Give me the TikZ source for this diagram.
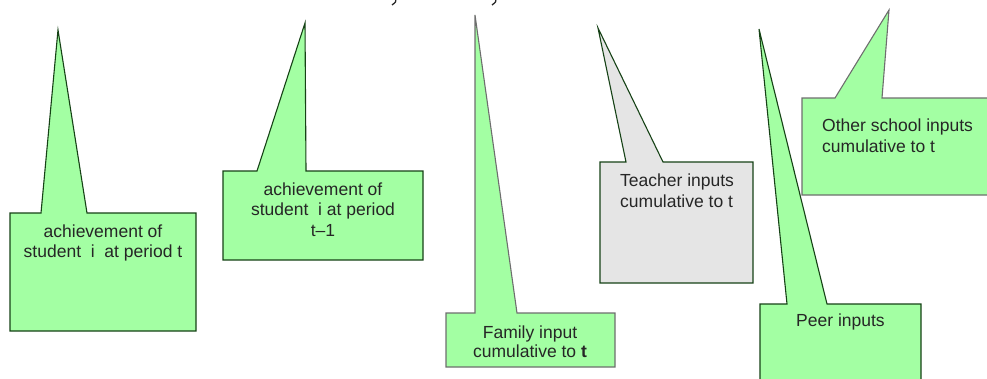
\documentclass[tikz,border=0pt]{standalone}
\usepackage{fontspec}
\setmainfont{Liberation Sans}
\definecolor{cgreen}{RGB}{163,255,163}
\definecolor{cgray}{RGB}{229,229,229}
\definecolor{dgreen}{RGB}{22,66,22}
\definecolor{bgray}{RGB}{110,110,110}
\definecolor{txt}{RGB}{38,38,38}
\begin{document}
\begin{tikzpicture}[x=1pt,y=-1pt,
  callgreen/.style={fill=cgreen,draw=dgreen,line width=1.1pt,line join=miter},
  callgrayline/.style={fill=cgreen,draw=bgray,line width=1.1pt,line join=miter},
  callgrey/.style={fill=cgray,draw=dgreen,line width=1.1pt,line join=miter},
  lbl/.style={inner sep=0pt,text=txt,font=\fontsize{17.5}{20}\selectfont,anchor=base},
  lblw/.style={lbl,anchor=base west}]
\useasboundingbox (0,0) rectangle (987,378);
\clip (0,0) rectangle (987,378);
% fragments at the top
\draw[line width=1.3pt,txt] (396,-1) .. controls (396,2) .. (392,5);
\draw[line width=1.3pt,txt] (496,-1) .. controls (496,2) .. (492,5);
% callout 1
\draw[callgreen] (10,213) -- (41,213) -- (58,30) -- (87,213) -- (196,213) -- (196,331) -- (10,331) -- cycle;
\node[lbl] (a1) at (103,237) {achievement of};
\node[lbl] (a2) at (103,257) {student\ \ i\ \ at period t};
% callout 2
\draw[callgreen] (223,171) -- (257,171) -- (305,23) -- (306,171) -- (423,171) -- (423,260) -- (223,260) -- cycle;
\node[lbl] (b1) at (323,195) {achievement of};
\node[lbl] (b2) at (323,215) {student\ \ i at period};
\node[lbl] (b3) at (323,236) {t–1};
% callout 3
\draw[callgrayline] (446,313) -- (475,313) -- (475,15) -- (517,313) -- (615,313) -- (615,367) -- (446,367) -- cycle;
\node[lbl] (c1) at (530,338) {Family input};
\node[lbl] (c2) at (530,357) {cumulative to \textbf{t}};
% callout 4
\draw[callgrey] (600,162) -- (626,162) -- (598,28) -- (663,162) -- (753,162) -- (753,283) -- (600,283) -- cycle;
\node[lblw] (d1) at (620,186) {Teacher inputs};
\node[lblw] (d2) at (620,207) {cumulative to t};
% callout 5
\draw[callgreen] (760,304) -- (787,304) -- (759,29) -- (827,304) -- (921,304) -- (921,395) -- (760,395) -- cycle;
\node[lbl] (e1) at (840.5,326) {Peer inputs};
% callout 6
\draw[callgrayline] (802,98) -- (835,98) -- (889,10) -- (882,98) -- (1000,98) -- (1000,195) -- (802,195) -- cycle;
\node[lblw] (f1) at (822,131) {Other school inputs};
\node[lblw] (f2) at (822,152) {cumulative to t};
\end{tikzpicture}
\end{document}
